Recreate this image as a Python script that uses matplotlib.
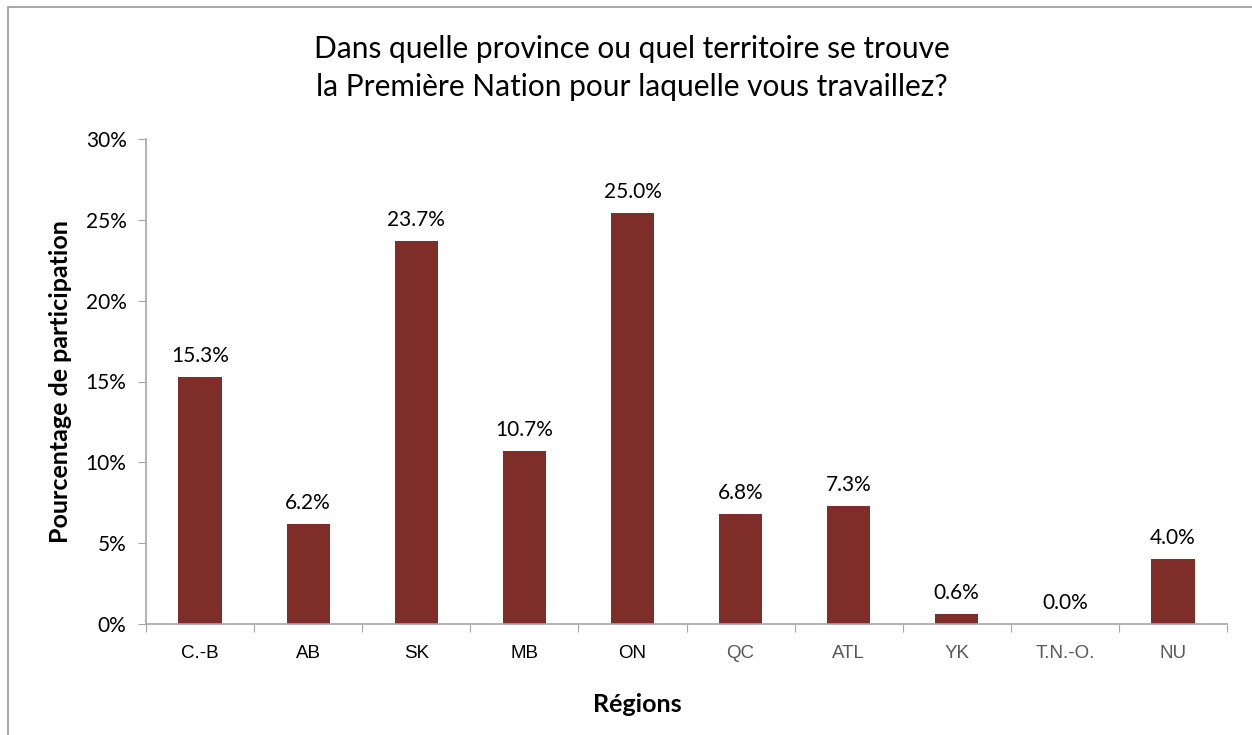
import matplotlib.pyplot as plt
from matplotlib.patches import Rectangle

# Données du graphique
regions = ['C.-B', 'AB', 'SK', 'MB', 'ON', 'QC', 'ATL', 'YK', 'T.N.-O.', 'NU']
hauteurs = [15.3, 6.2, 23.7, 10.7, 25.4, 6.8, 7.3, 0.6, 0.0, 4.0]
etiquettes = ['15.3%', '6.2%', '23.7%', '10.7%', '25.0%', '6.8%', '7.3%', '0.6%', '0.0%', '4.0%']
couleurs_ticks = ['black'] * 5 + ['#595959'] * 5

texte = 'Lato'
barre = '#7f2d28'
gris = '#a6a6a6'

fig = plt.figure(figsize=(12.52, 7.35), dpi=100)
ax = fig.add_axes([146 / 1252, 1 - 624 / 735, (1227 - 146) / 1252, (624 - 139) / 735])

# Cadre du graphique
fig.patches.append(Rectangle((8 / 1252, -0.01), 1.1, 1 - 7 / 735 + 0.01,
                             transform=fig.transFigure, fill=False,
                             edgecolor='#9a9a9a', linewidth=1.2))

x = range(len(regions))
ax.bar(x, hauteurs, width=0.40, color=barre)

for i, (h, lab) in enumerate(zip(hauteurs, etiquettes)):
    ax.annotate(lab, (i, h), xytext=(0, 8), textcoords='offset points',
                ha='center', va='bottom', fontsize=15, family=texte, color='black')

ax.set_xlim(-0.5, len(regions) - 0.5)
ax.set_ylim(0, 30)
ax.set_yticks(range(0, 31, 5))
ax.set_yticklabels([f'{v}%' for v in range(0, 31, 5)], fontsize=15, family=texte)

ax.set_xticks([i - 0.5 for i in range(len(regions) + 1)], minor=False)
ax.set_xticklabels([])
ax.set_xticks(list(x), minor=True)
ax.set_xticklabels(regions, minor=True, fontsize=13.5, family='Liberation Sans')
for t, c in zip(ax.get_xticklabels(minor=True), couleurs_ticks):
    t.set_color(c)
ax.tick_params(axis='x', which='minor', length=0, pad=15)
ax.tick_params(axis='x', which='major', length=6, color=gris, direction='out')
ax.tick_params(axis='y', length=6, color=gris, pad=8)

for s in ['top', 'right']:
    ax.spines[s].set_visible(False)
for s in ['left', 'bottom']:
    ax.spines[s].set_color(gris)
    ax.spines[s].set_linewidth(1.2)

ax.set_ylabel('Pourcentage de participation', fontsize=18, fontweight='bold',
              family=texte, labelpad=10)
fig.text(637 / 1252, 1 - 705 / 735, 'Régions', ha='center', va='center',
         fontsize=18, fontweight='bold', family=texte)
fig.text(632 / 1252, 1 - 68 / 735,
         'Dans quelle province ou quel territoire se trouve\nla Première Nation pour laquelle vous travaillez?',
         ha='center', va='center', fontsize=21.5, family=texte, linespacing=1.4)

fig.savefig('out.png', dpi=100)
